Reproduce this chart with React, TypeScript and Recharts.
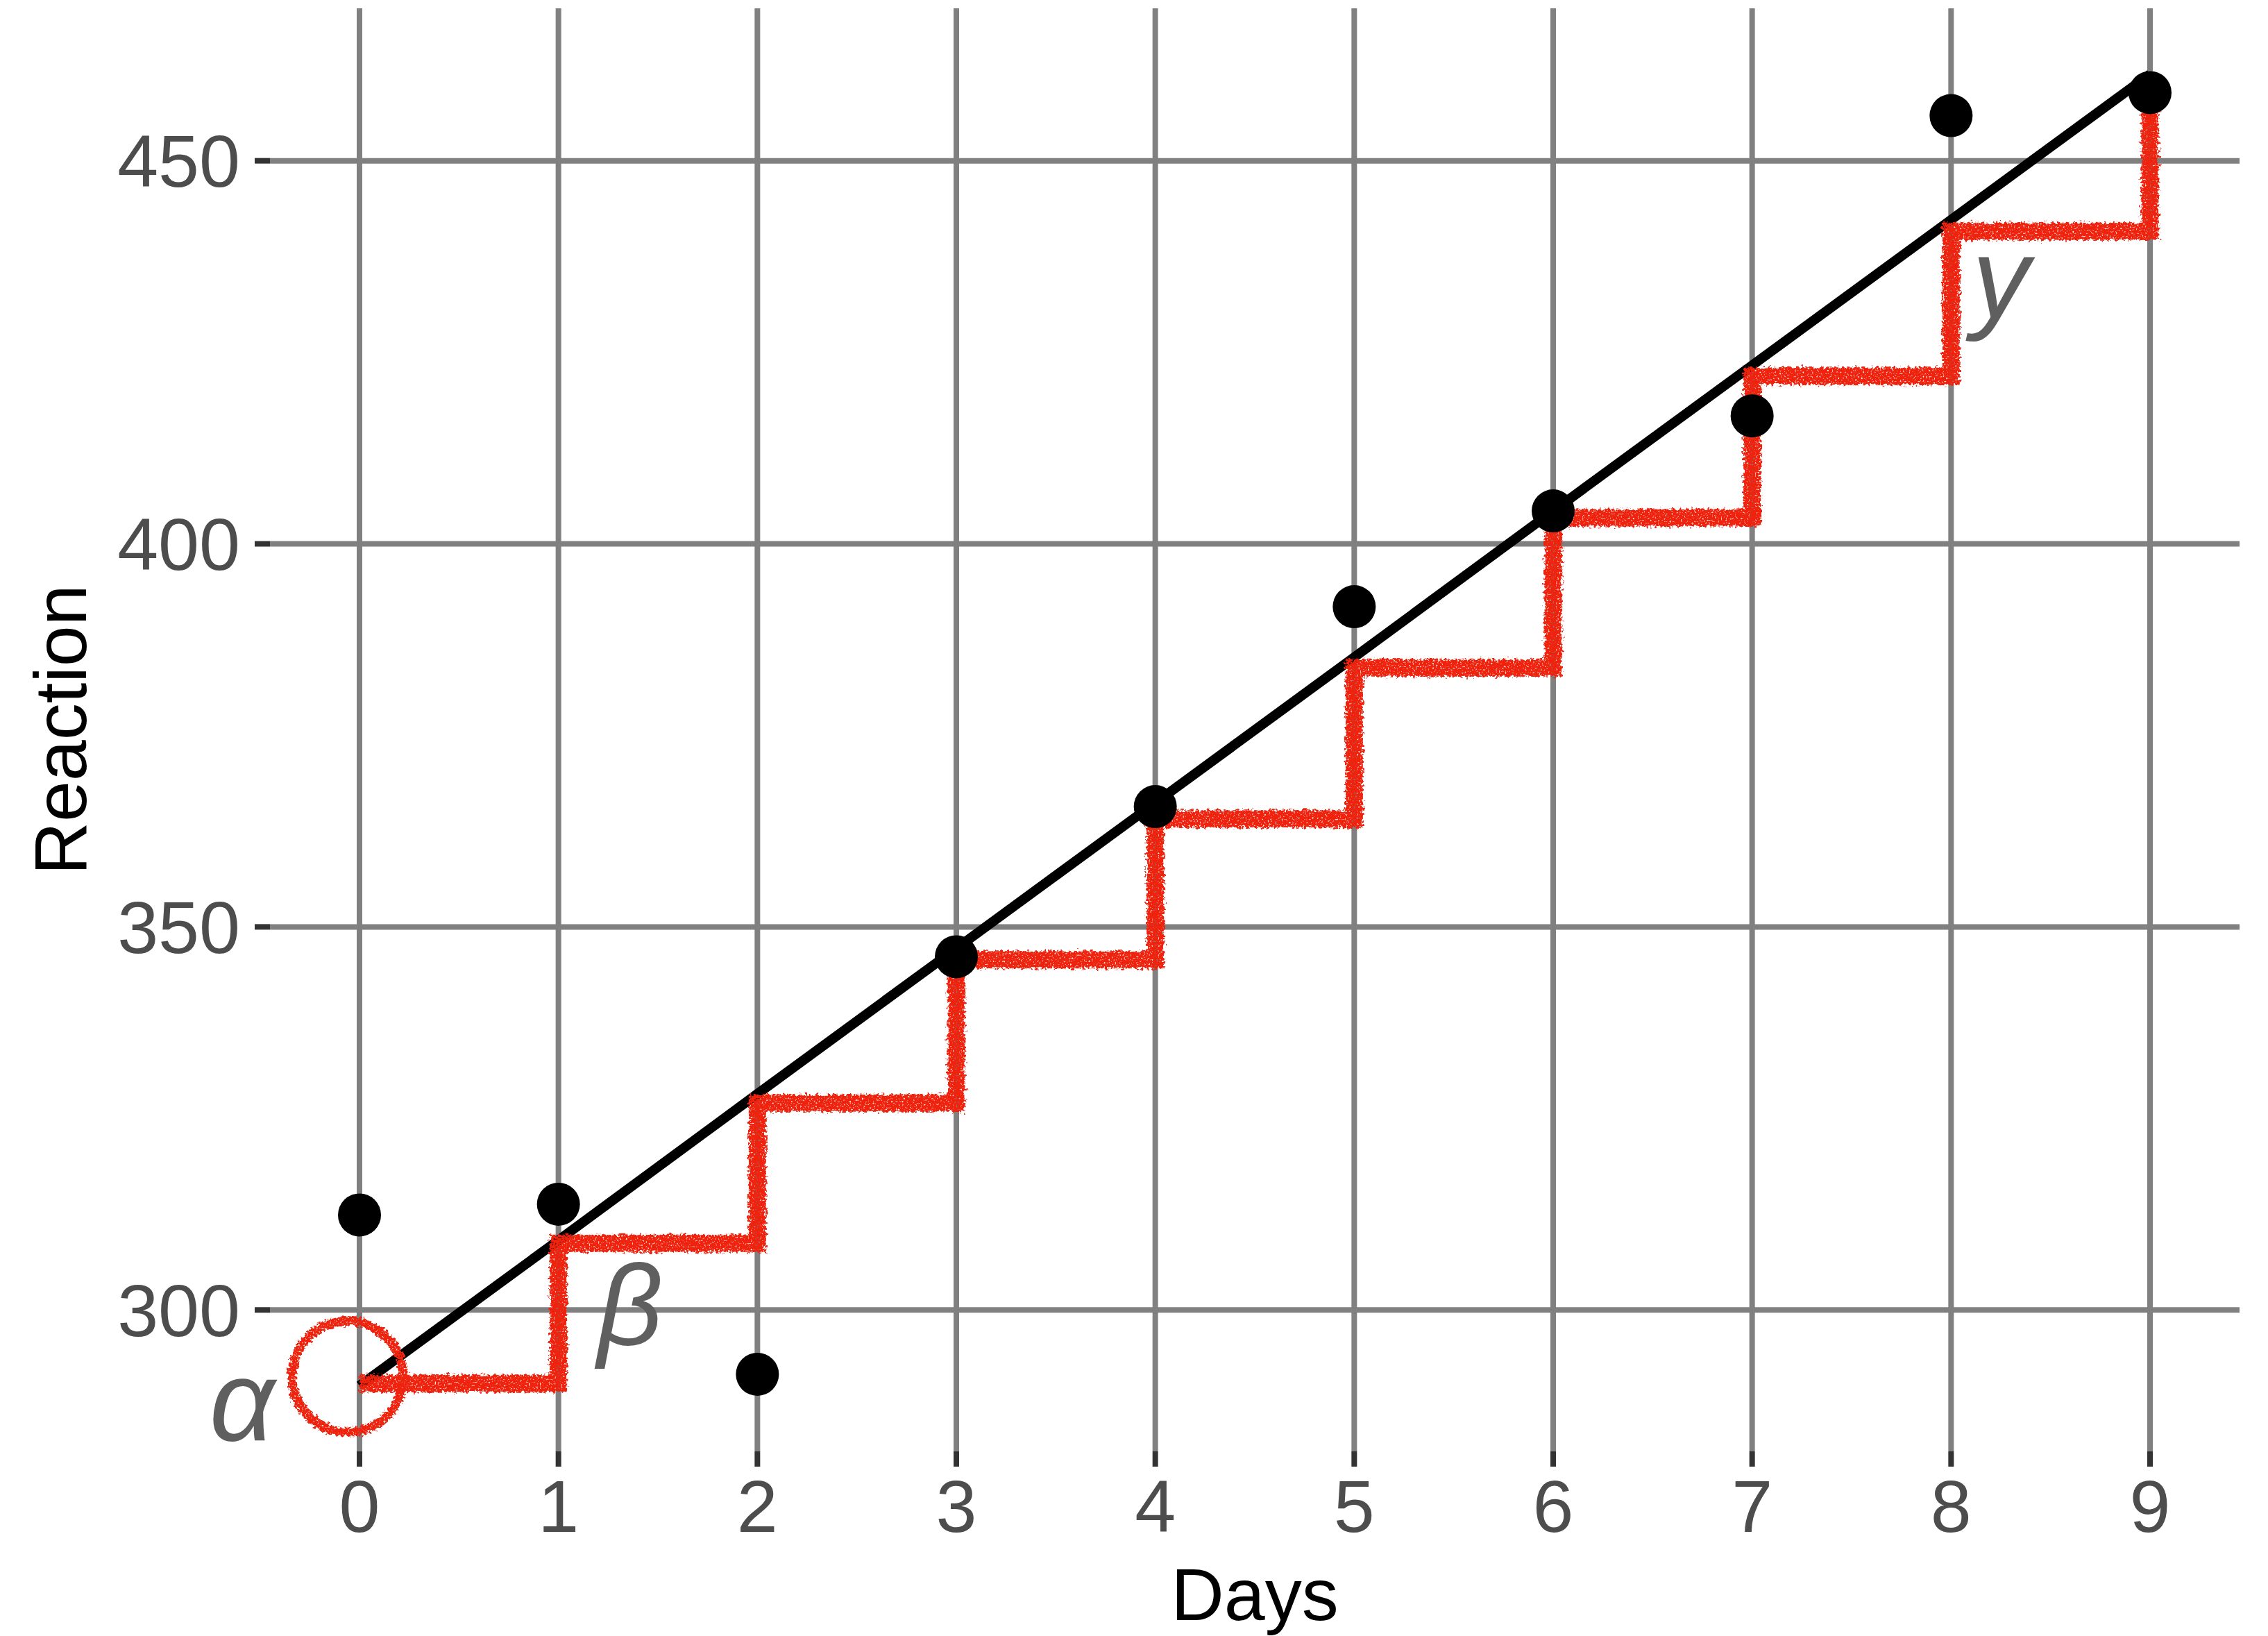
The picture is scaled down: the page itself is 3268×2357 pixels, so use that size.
import { CartesianGrid, ComposedChart, Label, Line, ReferenceDot, Scatter, XAxis, YAxis } from "recharts";

const days = [0, 1, 2, 3, 4, 5, 6, 7, 8, 9];
const reaction = [312.4, 313.8, 291.6, 346.1, 365.7, 391.8, 404.3, 416.7, 455.9, 458.9];
// fitted line read at each day
const fitted = [290.1, 309.1, 328.2, 347.2, 366.2, 385.2, 404.3, 423.3, 442.3, 461.3];
// hand-drawn stair levels (sit a little under the line)
const stairs = [290.4, 308.7, 327.0, 345.7, 364.1, 383.8, 403.4, 421.9, 440.8, 460.0];
const yTicks = [300, 350, 400, 450];

const greekLabels = [
  { text: "α", day: -0.59, value: 283.0 },
  { text: "β", day: 1.36, value: 295.4 },
  { text: "y", day: 8.25, value: 429.5 }
];
const interceptMark = { day: -0.06, value: 291.3 };

const table = days.map((day, i) => ({ day, reaction: reaction[i], fitted: fitted[i], stairs: stairs[i] }));

const font = "'Liberation Sans', Arial, Helvetica, sans-serif";
const red = "#EE2211";

export default function App() {
  return (
    <div style={{ position: "absolute", left: 0, top: 0, width: 3268, height: 2357, background: "#fff" }}>
      <svg width={0} height={0} style={{ position: "absolute" }}>
        <defs>
          <filter id="crayon" x="-5%" y="-5%" width="110%" height="110%">
            <feTurbulence type="fractalNoise" baseFrequency="0.25" numOctaves={2} seed={3} result="noise" />
            <feDisplacementMap in="SourceGraphic" in2="noise" scale={12} xChannelSelector="R" yChannelSelector="G" result="rough" />
            <feTurbulence type="fractalNoise" baseFrequency="0.45" numOctaves={1} seed={11} result="speck" />
            <feColorMatrix in="speck" type="matrix" values="0 0 0 0 0  0 0 0 0 0  0 0 0 0 0  0 0 0 -5 3.9" result="mask" />
            <feComposite in="rough" in2="mask" operator="in" />
          </filter>
        </defs>
      </svg>
      <ComposedChart width={3268} height={2357} data={table} margin={{ top: 12, right: 41, bottom: 0, left: 0 }}>
        <CartesianGrid stroke="#808080" strokeWidth={8} syncWithTicks />
        <XAxis
          dataKey="day"
          type="number"
          domain={[-0.45, 9.45]}
          ticks={days}
          allowDataOverflow
          height={266}
          axisLine={false}
          tickSize={22}
          tickMargin={19}
          tickLine={{ stroke: "#333333", strokeWidth: 8 }}
          tick={{ fill: "#4D4D4D", fontSize: 106, fontFamily: font }}
        >
          <Label
            content={({ viewBox }: any) => (
              <text x={viewBox.x + viewBox.width / 2} y={2334} textAnchor="middle" fontSize={106} fontFamily={font} fill="#000">
                Days
              </text>
            )}
          />
        </XAxis>
        <YAxis
          type="number"
          domain={[281.54, 469.9]}
          ticks={yTicks}
          allowDataOverflow
          width={389}
          axisLine={false}
          tickSize={22}
          tickMargin={21}
          tickLine={{ stroke: "#333333", strokeWidth: 8 }}
          tick={{ fill: "#4D4D4D", fontSize: 106, fontFamily: font }}
        >
          <Label
            content={({ viewBox }: any) => {
              const cy = viewBox.y + viewBox.height / 2;
              return (
                <text x={124} y={cy} transform={`rotate(-90, 124, ${cy})`} textAnchor="middle" fontSize={106} fontFamily={font} fill="#000">
                  Reaction
                </text>
              );
            }}
          />
        </YAxis>
        <Scatter
          dataKey="reaction"
          fill="#000"
          isAnimationActive={false}
          shape={(p: any) => <circle cx={p.cx} cy={p.cy} r={31} fill="#000" />}
        />
        <Line dataKey="fitted" type="linear" stroke="#000" strokeWidth={14} dot={false} activeDot={false} isAnimationActive={false} />
        <Line
          dataKey="stairs"
          type="stepAfter"
          stroke={red}
          strokeWidth={25}
          strokeLinecap="butt"
          strokeLinejoin="miter"
          filter="url(#crayon)"
          dot={false}
          activeDot={false}
          isAnimationActive={false}
        />
        <ReferenceDot
          x={interceptMark.day}
          y={interceptMark.value}
          ifOverflow="visible"
          shape={(p: any) => <circle cx={p.cx} cy={p.cy} r={80} fill="none" stroke={red} strokeWidth={13} filter="url(#crayon)" />}
        />
        {greekLabels.map((g) => (
          <ReferenceDot
            key={g.text}
            x={g.day}
            y={g.value}
            ifOverflow="visible"
            shape={(p: any) => (
              <text x={p.cx} y={p.cy} textAnchor="middle" fontSize={165} fontStyle="italic" fontFamily={font} fill="#5F5F5F">
                {g.text}
              </text>
            )}
          />
        ))}
      </ComposedChart>
    </div>
  );
}
